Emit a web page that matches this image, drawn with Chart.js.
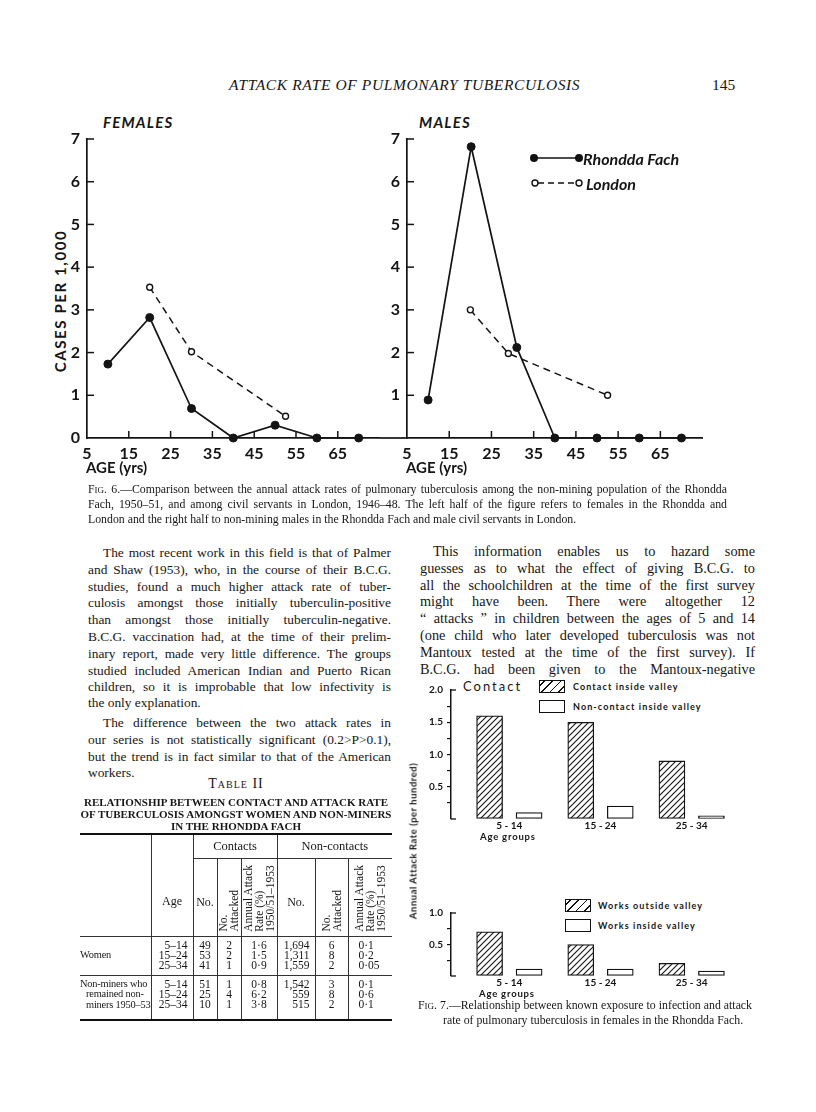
<!DOCTYPE html>
<html>
<head>
<meta charset="utf-8">
<script src="https://cdn.jsdelivr.net/npm/chart.js@4.4.1/dist/chart.umd.min.js"></script>
<style>
  html, body { margin: 0; padding: 0; background: #fff; }
  body { width: 816px; height: 1112px; position: relative; overflow: hidden; color: #161616;
         font-family: "Liberation Serif", "Times New Roman", serif; }
  .a { position: absolute; white-space: nowrap; }
  .sans { font-family: Lato, "DejaVu Sans", sans-serif; font-weight: 700; }
  canvas { position: absolute; }
  .box { position: absolute; width: 24px; height: 11px; border: 1.5px solid #111; background: #fff; }
  .hatch { background: repeating-linear-gradient(-45deg, #fff 0 3.2px, #111 3.2px 4.4px, #fff 4.4px 6px); }
  .vt { position: absolute; transform: translate(-50%, -50%) rotate(-90deg); white-space: nowrap; }
  #t2 { position: absolute; left: 80px; top: 833px; width: 312px; border-collapse: collapse; table-layout: fixed;
        font-size: 11.5px; line-height: 10px; border-top: 2.5px solid #111; border-bottom: 2.5px solid #111; }
  #t2 td { padding: 0; vertical-align: top; white-space: nowrap; overflow: hidden; }
  #t2 td.v { border-right: 1px solid #333; }
  #t2 td.bb { border-bottom: 1px solid #333; }
  #t2 .hd { text-align: center; vertical-align: middle; font-size: 12.5px; border-bottom: 1px solid #333; }
  #t2 .mid { text-align: center; vertical-align: middle; font-size: 12px; padding-top: 10px; }
  #t2 .rot { text-align: center; vertical-align: bottom; padding-bottom: 3px; }
  #t2 .rot div { display: inline-block; writing-mode: vertical-rl; transform: rotate(180deg); text-align: left;
                 font-size: 11.5px; line-height: 11px; white-space: nowrap; }
  #t2 .c { text-align: center; }
  #t2 .r { text-align: right; padding-right: 5px; }
</style>
</head>
<body>

<div class="a" style="left:229px;top:76px;font-size:15.5px;font-style:italic;letter-spacing:0.6px">ATTACK RATE OF PULMONARY TUBERCULOSIS</div>
<div class="a" style="left:712px;top:76px;font-size:15.5px">145</div>

<!-- Fig. 6 -->
<div class="a sans" style="left:103px;top:113px;font-size:15px;font-style:italic;letter-spacing:1.2px">FEMALES</div>
<div class="a sans" style="left:419px;top:113px;font-size:15px;font-style:italic;letter-spacing:1.2px">MALES</div>
<div class="vt sans" style="left:60px;top:301px;font-size:15px;letter-spacing:1.6px">CASES PER 1,000</div>
<canvas id="femaleChart" width="325" height="358" style="left:60px;top:120px"></canvas>
<canvas id="maleChart" width="328" height="358" style="left:380px;top:120px"></canvas>
<div class="a sans" style="left:86px;top:458px;font-size:15px">AGE (yrs)</div>
<div class="a sans" style="left:406px;top:458px;font-size:15px">AGE (yrs)</div>

<svg class="a" style="left:528px;top:150px" width="58" height="42">
  <line x1="6" y1="8" x2="51" y2="8" stroke="#111" stroke-width="1.7"/>
  <circle cx="6" cy="8" r="4" fill="#111"/><circle cx="51" cy="8" r="4" fill="#111"/>
  <line x1="10" y1="33" x2="48" y2="33" stroke="#111" stroke-width="1.5" stroke-dasharray="6 4"/>
  <circle cx="7" cy="33" r="3" fill="#fff" stroke="#111" stroke-width="1.4"/>
  <circle cx="51" cy="33" r="3" fill="#fff" stroke="#111" stroke-width="1.4"/>
</svg>
<div class="a sans" style="left:583px;top:149px;font-size:16px;font-style:italic">Rhondda Fach</div>
<div class="a sans" style="left:586px;top:174px;font-size:16px;font-style:italic">London</div>

<!-- Fig. 7 -->
<div class="a sans" style="left:463px;top:678px;font-size:13px;font-weight:400;letter-spacing:2px">Contact</div>
<div class="box hatch" style="left:539px;top:680px"></div>
<div class="box" style="left:539px;top:700px"></div>
<div class="a sans" style="left:573px;top:681px;font-size:9px;letter-spacing:1.1px">Contact inside valley</div>
<div class="a sans" style="left:573px;top:701px;font-size:9px;letter-spacing:1.1px">Non-contact inside valley</div>
<canvas id="contactChart" width="325" height="162" style="left:415px;top:680px"></canvas>
<div class="a sans" style="left:480px;top:831px;font-size:9.5px;letter-spacing:0.8px">Age groups</div>

<div class="box hatch" style="left:565px;top:899px"></div>
<div class="box" style="left:565px;top:919px"></div>
<div class="a sans" style="left:598px;top:900px;font-size:9px;letter-spacing:1.1px">Works outside valley</div>
<div class="a sans" style="left:598px;top:920px;font-size:9px;letter-spacing:1.1px">Works inside valley</div>
<canvas id="workChart" width="325" height="96" style="left:415px;top:903px"></canvas>
<div class="a sans" style="left:479px;top:988px;font-size:9.5px;letter-spacing:0.8px">Age groups</div>
<div class="vt sans" style="left:413px;top:841px;font-size:9.5px;letter-spacing:0.5px">Annual Attack Rate (per hundred)</div>

<!-- Table II -->
<div class="a" style="left:80px;top:776px;width:312px;text-align:center;font-size:14px;font-variant:small-caps;letter-spacing:1px">Table II</div>
<div class="a" style="left:80px;top:796px;width:312px;text-align:center;font-size:11px;line-height:12px;font-weight:700">RELATIONSHIP BETWEEN CONTACT AND ATTACK RATE<br>OF TUBERCULOSIS AMONGST WOMEN AND NON-MINERS<br>IN THE RHONDDA FACH</div>
<table id="t2">
  <colgroup><col style="width:71px"><col style="width:42px"><col style="width:24px"><col style="width:24px"><col style="width:36px"><col style="width:38px"><col style="width:33px"><col style="width:44px"></colgroup>
  <tr style="height:24px">
    <td rowspan="2" class="v bb"></td>
    <td rowspan="2" class="v bb mid" style="padding-top:32px">Age</td>
    <td colspan="3" class="v hd">Contacts</td>
    <td colspan="3" class="hd">Non-contacts</td>
  </tr>
  <tr style="height:78px">
    <td class="v bb mid">No.</td>
    <td class="v bb rot"><div>No.<br>Attacked</div></td>
    <td class="v bb rot"><div>Annual Attack<br>Rate (%)<br>1950/51–1953</div></td>
    <td class="v bb mid">No.</td>
    <td class="v bb rot"><div>No.<br>Attacked</div></td>
    <td class="bb rot"><div>Annual Attack<br>Rate (%)<br>1950/51–1953</div></td>
  </tr>
  <tr id="womenRow" style="height:39px"></tr>
  <tr id="minerRow" style="height:37px"></tr>
  <tr style="height:8px"><td class="v"></td><td class="v"></td><td class="v"></td><td class="v"></td><td class="v"></td><td class="v"></td><td class="v"></td><td></td></tr>
</table>

<div id="text"></div>

<script>
// Fig. 6 data: cases per 1,000 by age (yrs)
const ageTicks = [5, 15, 25, 35, 45, 55, 65];
const caseTicks = [0, 1, 2, 3, 4, 5, 6, 7];
const femaleRhonddaAge = [10, 20, 30, 40, 50, 60, 70];
const femaleRhondda = [1.73, 2.82, 0.69, 0, 0.3, 0, 0];
const femaleLondonAge = [20, 30, 52.5];
const femaleLondon = [3.53, 2.02, 0.51];
const maleRhonddaAge = [10, 20.2, 31, 40, 50, 60, 70];
const maleRhondda = [0.89, 6.82, 2.12, 0, 0, 0, 0];
const maleLondonAge = [20, 29, 52.5];
const maleLondon = [3.0, 1.98, 1.0];

// Fig. 7 data: annual attack rate (per hundred)
const ageGroups = ['5 - 14', '15 - 24', '25 - 34'];
const contactInside = [1.6, 1.5, 0.9];
const nonContactInside = [0.1, 0.2, 0.05];
const worksOutside = [0.7, 0.5, 0.2];
const worksInside = [0.11, 0.11, 0.08];

// Table II
const tableAges = ['5–14', '15–24', '25–34'];
const womenContactNo = ['49', '53', '41'];
const womenContactAtt = ['2', '2', '1'];
const womenContactRate = ['1·6', '1·5', '0·9'];
const womenNonNo = ['1,694', '1,311', '1,559'];
const womenNonAtt = ['6', '8', '2'];
const womenNonRate = ['0·1', '0·2', '0·05'];
const minerContactNo = ['51', '25', '10'];
const minerContactAtt = ['1', '4', '1'];
const minerContactRate = ['0·8', '6·2', '3·8'];
const minerNonNo = ['1,542', '559', '515'];
const minerNonAtt = ['3', '8', '2'];
const minerNonRate = ['0·1', '0·6', '0·1'];

const ink = '#141414';
const bigFont = { family: 'Lato, "DejaVu Sans", sans-serif', size: 16, weight: '700' };
const smallFont = { family: 'Lato, "DejaVu Sans", sans-serif', size: 10, weight: '700' };

function fillRow(id, label, cols) {
  const row = document.getElementById(id);
  const cls = ['v', 'v r', 'v c', 'v c', 'v c', 'v r', 'v c', ''];
  let html = `<td class="v" style="padding-top:3px;line-height:10.5px;font-size:10.4px;letter-spacing:-0.2px">${label}</td>`;
  cols.forEach((c, i) => {
    const extra = i === cols.length - 1 ? ' style="padding-left:10px;padding-top:3px"' : ' style="padding-top:3px"';
    html += `<td class="${cls[i + 1]}"${extra}>${c.join('<br>')}</td>`;
  });
  row.innerHTML = html;
}
fillRow('womenRow', '<div style="padding-top:10px">Women</div>',
  [tableAges, womenContactNo, womenContactAtt, womenContactRate, womenNonNo, womenNonAtt, womenNonRate]);
fillRow('minerRow', '<div>Non-miners who<br><span style="padding-left:6px">remained non-</span><br><span style="padding-left:6px">miners 1950–53</span></div>',
  [tableAges, minerContactNo, minerContactAtt, minerContactRate, minerNonNo, minerNonAtt, minerNonRate]);
document.querySelectorAll('#womenRow td').forEach(td => td.classList.add('bb'));

// running text: [text, left, centre y, justify width, font size]
const textLines = [
  ['F<span style="font-size:9px">IG</span>. 6.—Comparison between the annual attack rates of pulmonary tuberculosis among the non-mining population of the Rhondda', 88, 489, 639, 11.8],
  ['Fach, 1950–51, and among civil servants in London, 1946–48. The left half of the figure refers to females in the Rhondda and', 88, 504, 639, 11.8],
  ['London and the right half to non-mining males in the Rhondda Fach and male civil servants in London.', 88, 519, 0, 11.8],
  ['The most recent work in this field is that of Palmer', 103, 553, 288, 13.4],
  ['and Shaw (1953), who, in the course of their B.C.G.', 88, 570, 303, 13.4],
  ['studies, found a much higher attack rate of tuber-', 88, 587, 303, 13.4],
  ['culosis amongst those initially tuberculin-positive', 88, 603, 303, 13.4],
  ['than amongst those initially tuberculin-negative.', 88, 620, 303, 13.4],
  ['B.C.G. vaccination had, at the time of their prelim-', 88, 637, 303, 13.4],
  ['inary report, made very little difference. The groups', 88, 654, 303, 13.4],
  ['studied included American Indian and Puerto Rican', 88, 671, 303, 13.4],
  ['children, so it is improbable that low infectivity is', 88, 687, 303, 13.4],
  ['the only explanation.', 88, 703, 0, 13.4],
  ['The difference between the two attack rates in', 103, 723, 288, 13.4],
  ['our series is not statistically significant (0.2&gt;P&gt;0.1),', 88, 740, 303, 13.4],
  ['but the trend is in fact similar to that of the American', 88, 757, 303, 13.4],
  ['workers.', 88, 773, 0, 13.4],
  ['This information enables us to hazard some', 433, 552, 322, 14.3],
  ['guesses as to what the effect of giving B.C.G. to', 420, 569, 335, 14.3],
  ['all the schoolchildren at the time of the first survey', 420, 586, 335, 14.3],
  ['might have been. There were altogether 12', 420, 602, 335, 14.3],
  ['“ attacks ” in children between the ages of 5 and 14', 420, 619, 335, 14.3],
  ['(one child who later developed tuberculosis was not', 420, 636, 335, 14.3],
  ['Mantoux tested at the time of the first survey). If', 420, 653, 335, 14.3],
  ['B.C.G. had been given to the Mantoux-negative', 420, 670, 335, 14.3],
  ['F<span style="font-size:9px">IG</span>. 7.—Relationship between known exposure to infection and attack', 418, 1005, 334, 11.8],
  ['rate of pulmonary tuberculosis in females in the Rhondda Fach.', 443, 1020, 0, 11.8]
];
const holder = document.getElementById('text');
textLines.forEach(([t, x, y, w, fs]) => {
  const d = document.createElement('div');
  d.className = 'a';
  d.style.cssText = `left:${x}px;top:${y - fs * 0.62}px;font-size:${fs}px;line-height:${fs * 1.2}px`;
  d.innerHTML = t;
  holder.appendChild(d);
  if (w) {
    const nat = d.getBoundingClientRect().width;
    const gaps = (d.textContent.match(/ /g) || []).length;
    if (gaps) d.style.wordSpacing = ((w - nat) / gaps) + 'px';
  }
});

// inward tick marks like the printed figure
const inTicks = {
  id: 'inTicks',
  afterDraw(chart, args, o) {
    const ctx = chart.ctx, area = chart.chartArea;
    const xs = chart.scales.x, ys = chart.scales.y;
    ctx.save();
    ctx.strokeStyle = ink;
    ctx.lineWidth = o.width || 1.5;
    (o.y || []).forEach(v => {
      const p = ys.getPixelForValue(v);
      ctx.beginPath(); ctx.moveTo(area.left, p); ctx.lineTo(area.left + o.len, p); ctx.stroke();
    });
    (o.x || []).forEach(v => {
      const p = xs.getPixelForValue(v);
      ctx.beginPath(); ctx.moveTo(p, area.bottom); ctx.lineTo(p, area.bottom - o.len); ctx.stroke();
    });
    if (o.extendLeft) {
      ctx.lineWidth = 1.7;
      ctx.beginPath(); ctx.moveTo(0, area.bottom); ctx.lineTo(area.left, area.bottom); ctx.stroke();
    }
    ctx.restore();
  }
};

function drawAgeChart(id, rhAge, rhVal, lnAge, lnVal, showZero, extendLeft) {
  return new Chart(document.getElementById(id), {
    type: 'line',
    data: {
      datasets: [
        { label: 'Rhondda Fach', data: rhAge.map((a, i) => ({ x: a, y: rhVal[i] })),
          borderColor: ink, borderWidth: 1.7, pointRadius: 4, pointBackgroundColor: ink,
          pointBorderColor: ink, pointBorderWidth: 1, clip: false },
        { label: 'London', data: lnAge.map((a, i) => ({ x: a, y: lnVal[i] })),
          borderColor: ink, borderWidth: 1.5, borderDash: [7, 5], pointRadius: 3,
          pointBackgroundColor: '#fff', pointBorderColor: ink, pointBorderWidth: 1.4, clip: false }
      ]
    },
    options: {
      responsive: false, animation: false, events: [],
      layout: { padding: { top: 19, right: 0, bottom: 0, left: 0 } },
      plugins: {
        legend: { display: false }, tooltip: { enabled: false },
        inTicks: { x: ageTicks.slice(1), y: caseTicks.slice(1), len: 7, extendLeft }
      },
      scales: {
        x: {
          type: 'linear', min: 5, max: 75,
          afterBuildTicks: s => { s.ticks = ageTicks.map(v => ({ value: v })); },
          afterFit: s => { s.height = 40; },
          grid: { display: false, drawTicks: false },
          border: { color: ink, width: 1.7 },
          ticks: { color: ink, font: bigFont, padding: 6, maxRotation: 0, autoSkip: false }
        },
        y: {
          min: 0, max: 7,
          afterBuildTicks: s => { s.ticks = caseTicks.map(v => ({ value: v })); },
          afterFit: s => { s.width = 27; },
          grid: { display: false, drawTicks: false },
          border: { color: ink, width: 1.7 },
          ticks: { color: ink, font: bigFont, padding: 7, autoSkip: false,
                   callback: v => (v === 0 && !showZero) ? '' : String(v) }
        }
      }
    },
    plugins: [inTicks]
  });
}

function hatchPattern() {
  const c = document.createElement('canvas');
  c.width = 6; c.height = 6;
  const g = c.getContext('2d');
  g.fillStyle = '#fff'; g.fillRect(0, 0, 6, 6);
  g.strokeStyle = ink; g.lineWidth = 1.1;
  g.beginPath();
  g.moveTo(0, 6); g.lineTo(6, 0);
  g.moveTo(-1, 1); g.lineTo(1, -1);
  g.moveTo(5, 7); g.lineTo(7, 5);
  g.stroke();
  return g.createPattern(c, 'repeat');
}

function drawBarChart(id, hatched, open, yMax) {
  const steps = [];
  for (let v = 0; v <= yMax + 1e-9; v += 0.25) steps.push(+v.toFixed(2));
  const bar = { borderColor: ink, borderWidth: 1.3, borderSkipped: false, barThickness: 39.5, maxBarThickness: 26 };
  return new Chart(document.getElementById(id), {
    type: 'bar',
    data: {
      datasets: [
        Object.assign({ data: ageGroups.map((g, i) => ({ x: i + 1, y: hatched[i] })), backgroundColor: hatchPattern() }, bar),
        Object.assign({ data: ageGroups.map((g, i) => ({ x: i + 1, y: open[i] })), backgroundColor: '#fff' }, bar)
      ]
    },
    options: {
      responsive: false, animation: false, events: [],
      layout: { padding: { top: 8, right: 0, bottom: 0, left: 0 } },
      plugins: {
        legend: { display: false }, tooltip: { enabled: false },
        inTicks: { y: [0, yMax], len: 5, width: 1.3 }
      },
      scales: {
        x: {
          type: 'linear', min: 0.36, max: 3.53, offset: false,
          afterBuildTicks: s => { s.ticks = ageGroups.map((g, i) => ({ value: i + 1 })); },
          afterFit: s => { s.height = 23; },
          grid: { display: false, drawTicks: false },
          border: { display: false },
          ticks: { color: ink, font: smallFont, padding: 1, maxRotation: 0, autoSkip: false,
                   callback: v => ageGroups[v - 1] }
        },
        y: {
          min: 0, max: yMax,
          afterBuildTicks: s => { s.ticks = steps.map(v => ({ value: v })); },
          afterFit: s => { s.width = 36; },
          grid: { drawOnChartArea: false, tickLength: 4, lineWidth: 1.2,
                  color: c => (c.tick && (c.tick.value === 0 || c.tick.value === yMax)) ? 'rgba(0,0,0,0)' : ink },
          border: { color: ink, width: 1.5 },
          ticks: { color: ink, font: smallFont, padding: 4, autoSkip: false,
                   callback: v => (v > 0 && Math.abs(v * 2 - Math.round(v * 2)) < 1e-6) ? v.toFixed(1) : '' }
        }
      }
    },
    plugins: [inTicks]
  });
}

drawAgeChart('femaleChart', femaleRhonddaAge, femaleRhondda, femaleLondonAge, femaleLondon, true, false);
drawAgeChart('maleChart', maleRhonddaAge, maleRhondda, maleLondonAge, maleLondon, false, true);
drawBarChart('contactChart', contactInside, nonContactInside, 2);
drawBarChart('workChart', worksOutside, worksInside, 1);
</script>
</body>
</html>
